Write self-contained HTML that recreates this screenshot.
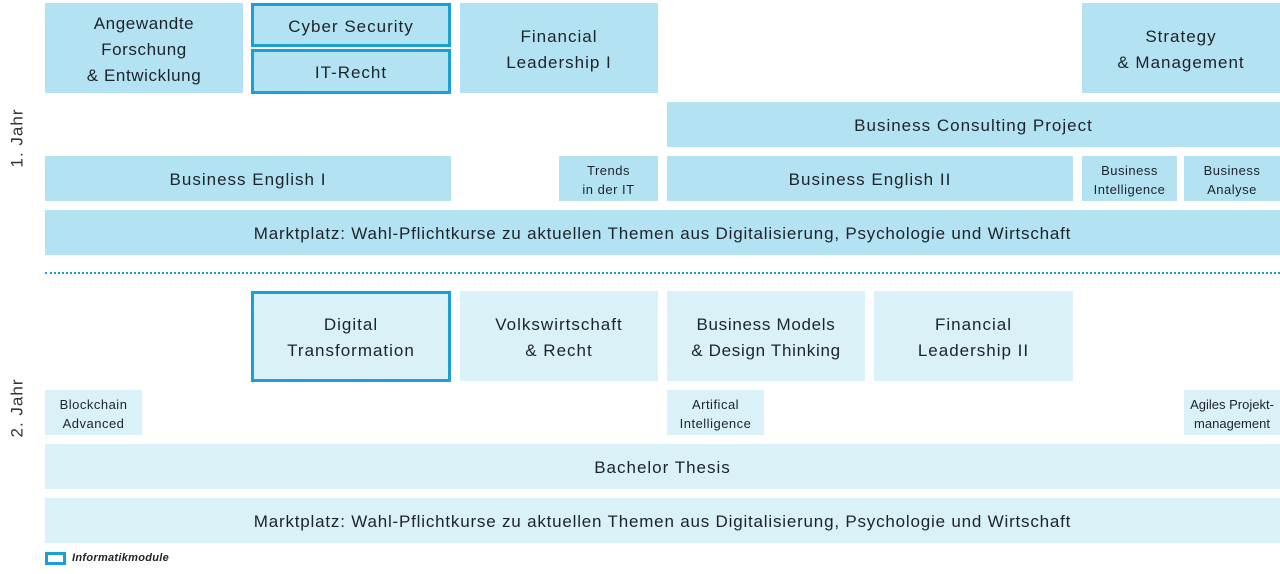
<!DOCTYPE html>
<html><head><meta charset="utf-8"><style>
body{margin:0;width:1280px;height:574px;background:#fff;position:relative;overflow:hidden;font-family:"Liberation Sans",sans-serif;color:#1c2329}
.b{position:absolute;display:flex;align-items:center;justify-content:center;text-align:center;font-size:17px;line-height:26px;box-sizing:border-box;letter-spacing:1px;padding-top:3px}
.y1{background:#b3e3f2}
.y2{background:#daf1f8}
.bd{border:3px solid #1a9fd6}
.s{font-size:13px;line-height:19px;letter-spacing:0.5px}
.rot{position:absolute;transform:rotate(-90deg);font-size:17px;white-space:nowrap;color:#333;letter-spacing:1px}
</style></head><body>
<div class="b y1" style="left:45px;top:3px;width:198px;height:90px;letter-spacing:0.6px">Angewandte<br>Forschung<br>&amp; Entwicklung</div>
<div class="b y1 bd" style="left:251px;top:3px;width:200px;height:44px">Cyber Security</div>
<div class="b y1 bd" style="left:251px;top:49px;width:200px;height:45px">IT-Recht</div>
<div class="b y1" style="left:460px;top:3px;width:198px;height:90px">Financial<br>Leadership I</div>
<div class="b y1" style="left:1082px;top:3px;width:198px;height:90px">Strategy<br>&amp; Management</div>
<div class="b y1" style="left:667px;top:102px;width:613px;height:45px">Business Consulting Project</div>
<div class="b y1" style="left:45px;top:156px;width:406px;height:45px">Business English I</div>
<div class="b y1 s" style="left:559px;top:156px;width:99px;height:45px">Trends<br>in der IT</div>
<div class="b y1" style="left:667px;top:156px;width:406px;height:45px">Business English II</div>
<div class="b y1 s" style="left:1082px;top:156px;width:95px;height:45px">Business<br>Intelligence</div>
<div class="b y1 s" style="left:1184px;top:156px;width:96px;height:45px">Business<br>Analyse</div>
<div class="b y1" style="left:45px;top:210px;width:1235px;height:45px;letter-spacing:0.8px">Marktplatz: Wahl-Pflichtkurse zu aktuellen Themen aus Digitalisierung, Psychologie und Wirtschaft</div>
<div style="position:absolute;left:45px;top:272px;width:1235px;border-top:2px dotted #1a9fd6"></div>
<div class="b y2 bd" style="left:251px;top:291px;width:200px;height:91px">Digital<br>Transformation</div>
<div class="b y2" style="left:460px;top:291px;width:198px;height:90px">Volkswirtschaft<br>&amp; Recht</div>
<div class="b y2" style="left:667px;top:291px;width:198px;height:90px;letter-spacing:0.7px">Business Models<br>&amp; Design Thinking</div>
<div class="b y2" style="left:874px;top:291px;width:199px;height:90px">Financial<br>Leadership II</div>
<div class="b y2 s" style="left:45px;top:390px;width:97px;height:45px">Blockchain<br>Advanced</div>
<div class="b y2 s" style="left:667px;top:390px;width:97px;height:45px">Artifical<br>Intelligence</div>
<div class="b y2 s" style="left:1184px;top:390px;width:96px;height:45px;letter-spacing:0">Agiles Projekt-<br>management</div>
<div class="b y2" style="left:45px;top:444px;width:1235px;height:45px">Bachelor Thesis</div>
<div class="b y2" style="left:45px;top:498px;width:1235px;height:45px;letter-spacing:0.8px">Marktplatz: Wahl-Pflichtkurse zu aktuellen Themen aus Digitalisierung, Psychologie und Wirtschaft</div>
<div class="rot" style="left:-12px;top:128px">1. Jahr</div>
<div class="rot" style="left:-12px;top:398px">2. Jahr</div>
<div style="position:absolute;left:45px;top:552px;width:21px;height:13px;box-sizing:border-box;border:3px solid #1a9fd6"></div>
<div style="position:absolute;left:72px;top:552px;font-size:11px;font-weight:bold;font-style:italic;letter-spacing:0.3px">Informatikmodule</div>
</body></html>
